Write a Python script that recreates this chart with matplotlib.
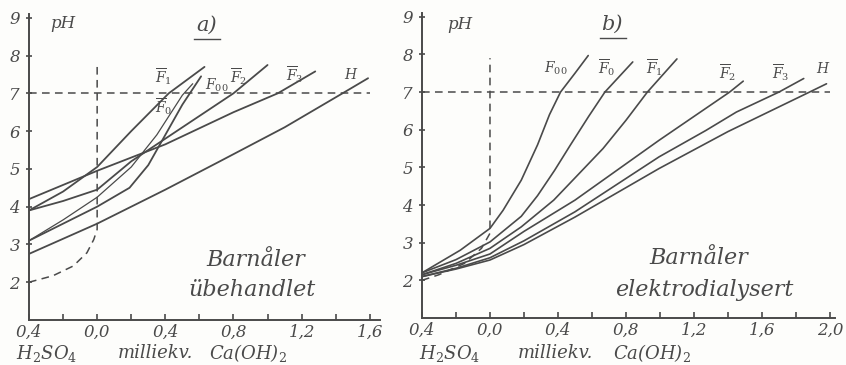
import matplotlib
matplotlib.use('Agg')
import matplotlib.pyplot as plt
from matplotlib.ticker import FixedLocator, FixedFormatter, MultipleLocator

plt.rcParams['font.family'] = ['DejaVu Serif']
plt.rcParams['mathtext.fontset'] = 'dejavuserif'

# ---- data ----
# panel a) Barnåler, ubehandlet
a_H_x = [-0.4, 0.0, 0.4, 0.72, 1.1, 1.44, 1.59]
a_H_y = [2.75, 3.55, 4.45, 5.2, 6.1, 7.0, 7.4]
a_F3_x = [-0.4, 0.0, 0.4, 0.8, 1.06, 1.28]
a_F3_y = [4.2, 4.95, 5.65, 6.5, 7.0, 7.58]
a_F2_x = [-0.4, -0.2, 0.0, 0.2, 0.4, 0.6, 0.8, 1.0]
a_F2_y = [3.9, 4.15, 4.45, 5.2, 5.8, 6.4, 7.0, 7.75]
a_F1_x = [-0.4, -0.2, 0.0, 0.2, 0.42, 0.63]
a_F1_y = [3.9, 4.4, 5.05, 6.0, 7.0, 7.7]
a_F0_x = [-0.4, -0.2, 0.0, 0.2, 0.35, 0.5, 0.56]
a_F0_y = [3.1, 3.65, 4.25, 5.05, 5.9, 6.95, 7.25]
a_F00_x = [-0.4, -0.2, 0.0, 0.19, 0.3, 0.4, 0.5, 0.61]
a_F00_y = [3.1, 3.55, 4.0, 4.5, 5.1, 5.9, 6.7, 7.45]
a_dash_x = [-0.4, -0.26, -0.14, -0.06, -0.02, 0.0, 0.0]
a_dash_y = [2.0, 2.17, 2.43, 2.78, 3.13, 3.4, 7.7]

# panel b) Barnåler, elektrodialysert
b_H_x = [-0.4, -0.2, 0.0, 0.2, 0.5, 0.995, 1.4, 1.88, 1.98]
b_H_y = [2.1, 2.3, 2.54, 2.95, 3.68, 4.97, 5.95, 7.0, 7.22]
b_F3_x = [-0.4, -0.2, 0.0, 0.2, 0.5, 0.995, 1.27, 1.45, 1.70, 1.846]
b_F3_y = [2.1, 2.32, 2.6, 3.05, 3.82, 5.28, 5.98, 6.47, 7.0, 7.36]
b_F2_x = [-0.4, -0.2, 0.0, 0.2, 0.5, 0.995, 1.41, 1.49]
b_F2_y = [2.15, 2.4, 2.7, 3.3, 4.13, 5.72, 7.0, 7.29]
b_F1_x = [-0.4, -0.2, 0.0, 0.184, 0.375, 0.5, 0.665, 0.8, 0.926, 1.10]
b_F1_y = [2.15, 2.45, 2.85, 3.42, 4.13, 4.72, 5.5, 6.25, 7.0, 7.88]
b_F0_x = [-0.4, -0.2, 0.0, 0.184, 0.28, 0.38, 0.474, 0.58, 0.676, 0.84]
b_F0_y = [2.2, 2.55, 3.02, 3.7, 4.25, 4.92, 5.6, 6.35, 7.0, 7.8]
b_F00_x = [-0.4, -0.175, 0.0, 0.077, 0.184, 0.28, 0.35, 0.415, 0.5, 0.578]
b_F00_y = [2.2, 2.8, 3.38, 3.86, 4.66, 5.6, 6.4, 7.0, 7.5, 7.97]
b_dash_x = [-0.4, -0.3, -0.15, -0.05, 0.0, 0.0]
b_dash_y = [2.0, 2.15, 2.45, 2.85, 3.25, 7.9]

y_ticks = [2, 3, 4, 5, 6, 7, 8, 9]
a_xticks = [-0.4, 0.0, 0.4, 0.8, 1.2, 1.6]
a_xlabels = ['0,4', '0,0', '0,4', '0,8', '1,2', '1,6']
b_xticks = [-0.4, 0.0, 0.4, 0.8, 1.2, 1.6, 2.0]
b_xlabels = ['0,4', '0,0', '0,4', '0,8', '1,2', '1,6', '2,0']

# curve labels: (text, x, pH)
a_labels = [(r'$\overline{F}_1$', 0.39, 7.45), (r'$\overline{F}_0$', 0.39, 6.65),
            (r'$F_{00}$', 0.70, 7.2), (r'$\overline{F}_2$', 0.83, 7.45),
            (r'$\overline{F}_3$', 1.16, 7.5), (r'$H$', 1.49, 7.5)]
b_labels = [(r'$F_{00}$', 0.385, 7.63), (r'$\overline{F}_0$', 0.69, 7.65),
            (r'$\overline{F}_1$', 0.97, 7.65), (r'$\overline{F}_2$', 1.40, 7.52),
            (r'$\overline{F}_3$', 1.71, 7.52), (r'$H$', 1.96, 7.63)]

ink = '#4a4a4a'
W, H = 846, 365

fig = plt.figure(figsize=(8.46, 3.65), dpi=100)
fig.patch.set_facecolor('#fdfdfb')

ax_a = fig.add_axes([29 / W, 1 - 320 / H, (380 - 29) / W, (320 - 14) / H])
ax_b = fig.add_axes([422 / W, 1 - 318 / H, (835 - 422) / W, (318 - 13) / H])


def style_axes(ax, xmax, xticks, xlabels):
    ax.set_facecolor('none')
    ax.set_xlim(-0.4, xmax)
    ax.set_ylim(1, 9.1)
    for s in ['top', 'right']:
        ax.spines[s].set_visible(False)
    for s in ['left', 'bottom']:
        ax.spines[s].set_color(ink)
        ax.spines[s].set_linewidth(1.4)
    ax.xaxis.set_major_locator(FixedLocator(xticks))
    ax.xaxis.set_major_formatter(FixedFormatter(xlabels))
    ax.xaxis.set_minor_locator(MultipleLocator(0.2))
    ax.yaxis.set_major_locator(FixedLocator(y_ticks))
    ax.tick_params(axis='x', which='both', direction='in', length=4, width=1.2,
                   color=ink, labelcolor=ink, labelsize=12, pad=3)
    ax.tick_params(axis='y', direction='inout', length=5, width=1.2,
                   color=ink, labelcolor=ink, labelsize=12, pad=4)
    for t in ax.get_xticklabels() + ax.get_yticklabels():
        t.set_fontstyle('italic')


style_axes(ax_a, 1.66, a_xticks, a_xlabels)
style_axes(ax_b, 2.03, b_xticks, b_xlabels)

# panel a
for xs, ys in [(a_H_x, a_H_y), (a_F3_x, a_F3_y), (a_F2_x, a_F2_y),
               (a_F1_x, a_F1_y), (a_F00_x, a_F00_y)]:
    ax_a.plot(xs, ys, color=ink, lw=1.3, solid_capstyle='round')
ax_a.plot(a_F0_x, a_F0_y, color=ink, lw=0.9)
ax_a.plot(a_dash_x, a_dash_y, color=ink, lw=1.1, dashes=(5, 3.5))
ax_a.plot([-0.4, 1.6], [7, 7], color=ink, lw=1.1, dashes=(5, 3.5))

# panel b
for xs, ys in [(b_H_x, b_H_y), (b_F3_x, b_F3_y), (b_F2_x, b_F2_y),
               (b_F1_x, b_F1_y), (b_F0_x, b_F0_y), (b_F00_x, b_F00_y)]:
    ax_b.plot(xs, ys, color=ink, lw=1.2, solid_capstyle='round')
ax_b.plot(b_dash_x, b_dash_y, color=ink, lw=1.1, dashes=(5, 3.5))
ax_b.plot([-0.4, 2.0], [7, 7], color=ink, lw=1.1, dashes=(5, 3.5))

for ax, labels in [(ax_a, a_labels), (ax_b, b_labels)]:
    for txt, x, y in labels:
        ax.text(x, y, txt, color=ink, fontsize=10, ha='center', va='center')

# headings and texts
ax_a.text(-0.2, 8.85, 'pH', color=ink, fontsize=12, style='italic', ha='center', va='center')
ax_b.text(-0.18, 8.8, 'pH', color=ink, fontsize=12, style='italic', ha='center', va='center')
ax_a.text(0.64, 8.8, 'a)', color=ink, fontsize=15, style='italic', ha='center', va='center')
ax_b.text(0.72, 8.8, 'b)', color=ink, fontsize=15, style='italic', ha='center', va='center')
ax_a.plot([0.57, 0.72], [8.45, 8.45], color=ink, lw=1.0)
ax_b.plot([0.65, 0.80], [8.43, 8.43], color=ink, lw=1.0)

ax_a.text(0.93, 2.6, 'Barnåler', color=ink, fontsize=16, style='italic', ha='center', va='center')
ax_a.text(0.91, 1.8, 'übehandlet', color=ink, fontsize=16, style='italic', ha='center', va='center')
ax_b.text(1.23, 2.6, 'Barnåler', color=ink, fontsize=16, style='italic', ha='center', va='center')
ax_b.text(1.26, 1.74, 'elektrodialysert', color=ink, fontsize=16, style='italic', ha='center', va='center')

for px, txt in [(47, 'H$_2$SO$_4$'), (155, 'milliekv.'), (248, 'Ca(OH)$_2$'),
                (450, 'H$_2$SO$_4$'), (555, 'milliekv.'), (652, 'Ca(OH)$_2$')]:
    fig.text(px / W, 1 - 353 / H, txt, color=ink, fontsize=13, style='italic',
             ha='center', va='center')

fig.savefig('out.png', dpi=100, facecolor=fig.get_facecolor())
